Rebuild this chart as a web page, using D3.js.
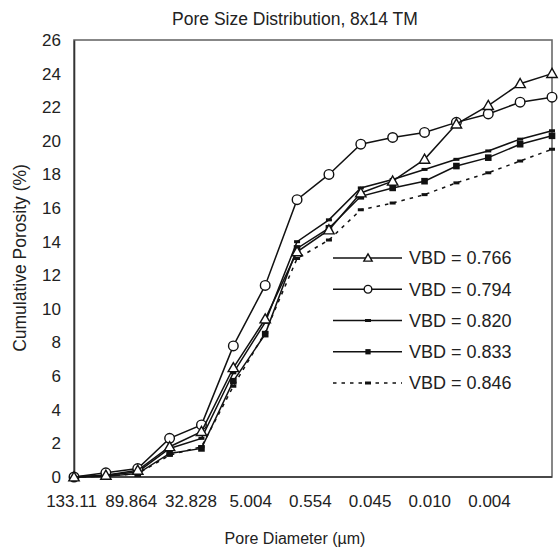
<!DOCTYPE html>
<html>
<head>
<meta charset="utf-8">
<script src="https://cdn.jsdelivr.net/npm/d3@7"></script>
<style>
  html, body { margin: 0; padding: 0; background: #fff; }
  svg { display: block; font-family: "Liberation Sans", Arial, Helvetica, sans-serif; }
</style>
</head>
<body>
<svg id="chart" width="559" height="548"></svg>
<script>
// ---- data ----
const pointIndex = [0, 1, 2, 3, 4, 5, 6, 7, 8, 9, 10, 11, 12, 13, 14, 15];
const tickLabels = ["133.11", "89.864", "32.828", "5.004", "0.554", "0.045", "0.010", "0.004"];
const yTicks = [0, 2, 4, 6, 8, 10, 12, 14, 16, 18, 20, 22, 24, 26];
const seriesNames = ["VBD = 0.766", "VBD = 0.794", "VBD = 0.820", "VBD = 0.833", "VBD = 0.846"];
const vbd766 = [0, 0.1, 0.4, 1.8, 2.7, 6.5, 9.4, 13.4, 14.7, 16.9, 17.6, 18.9, 21.0, 22.1, 23.4, 24.0];
const vbd794 = [0, 0.25, 0.5, 2.3, 3.1, 7.8, 11.4, 16.5, 18.0, 19.8, 20.2, 20.5, 21.1, 21.6, 22.3, 22.6];
const vbd820 = [0, 0.1, 0.3, 1.7, 2.3, 6.2, 9.2, 14.0, 15.3, 17.2, 17.7, 18.3, 18.9, 19.4, 20.1, 20.6];
const vbd833 = [0, 0.05, 0.2, 1.4, 1.7, 5.7, 8.5, 13.6, 14.8, 16.7, 17.2, 17.6, 18.5, 19.0, 19.8, 20.3];
const vbd846 = [0, 0.05, 0.2, 1.3, 1.8, 5.4, 8.6, 13.0, 14.1, 15.9, 16.3, 16.8, 17.5, 18.1, 18.8, 19.5];
const markers = ["triangle", "circle", "dash", "square", "dash"];
const dashed = [false, false, false, false, true];

const seriesValues = [vbd766, vbd794, vbd820, vbd833, vbd846];

// ---- layout ----
const svg = d3.select("#chart");
const plot = { left: 74, right: 552, top: 40, bottom: 477 };

const x = d3.scalePoint().domain(pointIndex).range([plot.left, plot.right]);
const xLab = d3.scalePoint().domain(tickLabels).range([71, 489]);
const y = d3.scaleLinear().domain([0, 26]).range([plot.bottom, plot.top]);

// title
svg.append("text").attr("x", 295).attr("y", 25).attr("text-anchor", "middle")
  .attr("font-size", 17.5).attr("fill", "#222").text("Pore Size Distribution, 8x14 TM");

// frame
svg.append("rect").attr("x", plot.left).attr("y", plot.top)
  .attr("width", plot.right - plot.left).attr("height", plot.bottom - plot.top)
  .attr("fill", "none").attr("stroke", "#6a6a6a").attr("stroke-width", 1.6);

// y axis
const yAxis = d3.axisLeft(y).tickValues(yTicks).tickSize(0).tickPadding(13);
const gy = svg.append("g").attr("transform", `translate(${plot.left},0)`).call(yAxis);
gy.select(".domain").attr("stroke", "#333").attr("stroke-width", 1.6);
gy.selectAll("text").attr("font-size", 17).attr("fill", "#222").attr("font-family", "Liberation Sans, Arial, sans-serif");

// x axis (labels)
const xAxis = d3.axisBottom(xLab).tickSize(0).tickPadding(18);
const gx = svg.append("g").attr("transform", `translate(0,${plot.bottom})`).call(xAxis);
gx.select(".domain").remove();
gx.selectAll("text").attr("font-size", 17).attr("fill", "#222").attr("font-family", "Liberation Sans, Arial, sans-serif");
svg.append("line").attr("x1", plot.left).attr("x2", plot.right)
  .attr("y1", plot.bottom).attr("y2", plot.bottom).attr("stroke", "#333").attr("stroke-width", 1.6);

// axis titles
svg.append("text").attr("x", 295).attr("y", 544).attr("text-anchor", "middle")
  .attr("font-size", 16).attr("fill", "#222").text("Pore Diameter (\u00b5m)");
svg.append("text").attr("transform", "translate(26,258) rotate(-90)").attr("text-anchor", "middle")
  .attr("font-size", 17.5).attr("fill", "#222").text("Cumulative Porosity (%)");

// markers
function drawMarker(g, type, cx, cy, k) {
  if (type === "triangle") {
    const s = 5.2 * k;
    g.append("path").attr("d", `M${cx},${cy - s}L${cx + s},${cy + s * 0.75}L${cx - s},${cy + s * 0.75}Z`)
      .attr("fill", "#fff").attr("stroke", "#111").attr("stroke-width", 1.4);
  } else if (type === "circle") {
    g.append("circle").attr("cx", cx).attr("cy", cy).attr("r", 4.8 * k)
      .attr("fill", "#fff").attr("stroke", "#111").attr("stroke-width", 1.4);
  } else if (type === "square") {
    const h = 3.3 * k;
    g.append("rect").attr("x", cx - h).attr("y", cy - h).attr("width", 2 * h).attr("height", 2 * h)
      .attr("fill", "#111");
  } else if (type === "dash") {
    g.append("rect").attr("x", cx - 3).attr("y", cy - 1.5).attr("width", 6).attr("height", 3)
      .attr("fill", "#111");
  }
}

const line = d3.line().x((d, i) => x(pointIndex[i])).y(d => y(d));

// draw in reverse so circle/triangle on top
for (let s = seriesValues.length - 1; s >= 0; s--) {
  const g = svg.append("g");
  g.append("path").datum(seriesValues[s]).attr("d", line)
    .attr("fill", "none").attr("stroke", "#111").attr("stroke-width", 1.5)
    .attr("stroke-dasharray", dashed[s] ? "3.5,5" : null);
  seriesValues[s].forEach((v, i) => drawMarker(g, markers[s], x(pointIndex[i]), y(v), 1));
}

// legend
const legendY = d3.scalePoint().domain(seriesNames).range([258, 383]);
seriesNames.forEach((name, s) => {
  const g = svg.append("g");
  const ly = legendY(name);
  g.append("line").attr("x1", 333).attr("x2", 402).attr("y1", ly).attr("y2", ly)
    .attr("stroke", "#111").attr("stroke-width", 1.5)
    .attr("stroke-dasharray", dashed[s] ? "3.5,5" : null);
  drawMarker(g, markers[s], 368, ly, 0.8);
  g.append("text").attr("x", 409).attr("y", ly).attr("dy", "0.36em")
    .attr("font-size", 18).attr("fill", "#222").text(name);
});
</script>
</body>
</html>
